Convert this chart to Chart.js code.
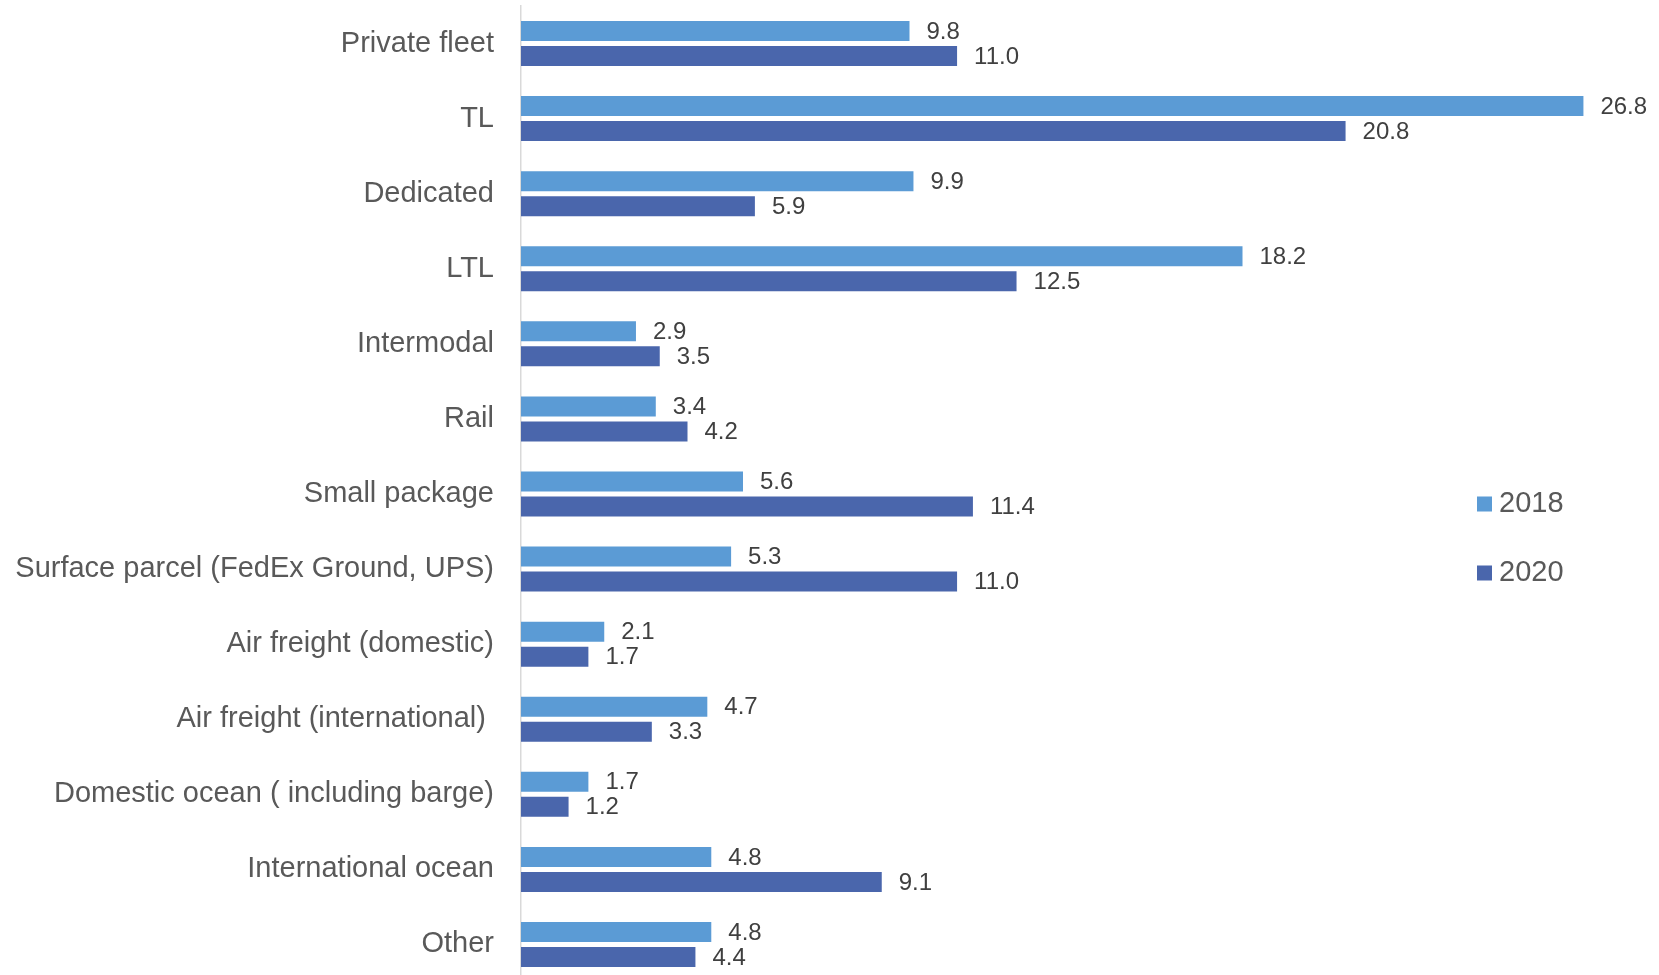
<!DOCTYPE html>
<html>
<head>
<meta charset="utf-8">
<script src="https://cdn.jsdelivr.net/npm/chart.js@4"></script>
<style>
  html, body { margin: 0; padding: 0; background: #fff; overflow: hidden; }
  #wrap { width: 1659px; height: 982px; position: relative; }
</style>
</head>
<body>
<div id="wrap"><canvas id="myChart"></canvas></div>
<script>
'use strict';
const modes = [
  'Private fleet', 'TL', 'Dedicated', 'LTL', 'Intermodal', 'Rail', 'Small package',
  'Surface parcel (FedEx Ground, UPS)', 'Air freight (domestic)', 'Air freight (international) ',
  'Domestic ocean ( including barge)', 'International ocean', 'Other'
];
const share2018 = [9.8, 26.8, 9.9, 18.2, 2.9, 3.4, 5.6, 5.3, 2.1, 4.7, 1.7, 4.8, 4.8];
const share2020 = [11.0, 20.8, 5.9, 12.5, 3.5, 4.2, 11.4, 11.0, 1.7, 3.3, 1.2, 9.1, 4.4];
const seriesNames = ['2018', '2020'];
const seriesColors = ['#5B9BD5', '#4A66AC'];

// value labels just past the end of each bar
const barLabels = {
  id: 'barLabels',
  afterDatasetsDraw(chart) {
    const ctx = chart.ctx;
    ctx.save();
    ctx.font = '24px "Liberation Sans", Arial, sans-serif';
    ctx.fillStyle = '#404040';
    ctx.textAlign = 'left';
    ctx.textBaseline = 'middle';
    chart.data.datasets.forEach((ds, i) => {
      chart.getDatasetMeta(i).data.forEach((bar, j) => {
        ctx.fillText(ds.data[j].toFixed(1), bar.x + 17, bar.y + 1);
      });
    });
    ctx.restore();
  }
};

// legend on the right, stacked
const sideLegend = {
  id: 'sideLegend',
  afterDraw(chart) {
    const ctx = chart.ctx;
    ctx.save();
    ctx.font = '29px "Liberation Sans", Arial, sans-serif';
    ctx.textAlign = 'left';
    ctx.textBaseline = 'middle';
    chart.data.datasets.forEach((ds, i) => {
      const y = 504 + i * 69;
      ctx.fillStyle = ds.backgroundColor;
      ctx.fillRect(1477, y - 7.5, 15, 15);
      ctx.fillStyle = '#595959';
      ctx.fillText(ds.label, 1499, y);
    });
    ctx.restore();
  }
};

const data = {
  labels: modes,
  datasets: [
    {
      label: seriesNames[0],
      data: share2018,
      backgroundColor: seriesColors[0],
      categoryPercentage: 0.666,
      barPercentage: 0.8,
    },
    {
      label: seriesNames[1],
      data: share2020,
      backgroundColor: seriesColors[1],
      categoryPercentage: 0.666,
      barPercentage: 0.8,
    },
  ],
};

const config = {
  type: 'bar',
  data: data,
  options: {
    indexAxis: 'y',
    responsive: true,
    maintainAspectRatio: false,
    animation: false,
    layout: { padding: { top: 6, right: 28, bottom: 0, left: 0 } },
    plugins: {
      legend: { display: false },
      tooltip: { enabled: false },
    },
    scales: {
      x: {
        display: false,
        min: 0,
        max: 28,
      },
      y: {
        afterFit(scale) {
          // fixed label column; labels sit inside their bands so no extra top/bottom room
          scale.width = 521;
          scale.paddingTop = 0;
          scale.paddingBottom = 0;
        },
        grid: { display: false, drawTicks: false },
        border: { display: true, color: '#D9D9D9', width: 1.5 },
        ticks: {
          padding: 27,
          color: '#595959',
          font: { family: '"Liberation Sans", Arial, sans-serif', size: 29 },
        },
      },
    },
  },
  plugins: [barLabels, sideLegend],
};

let canvasChart = document.getElementById('myChart');
const myChart = new Chart(canvasChart, config);
</script>
</body>
</html>
